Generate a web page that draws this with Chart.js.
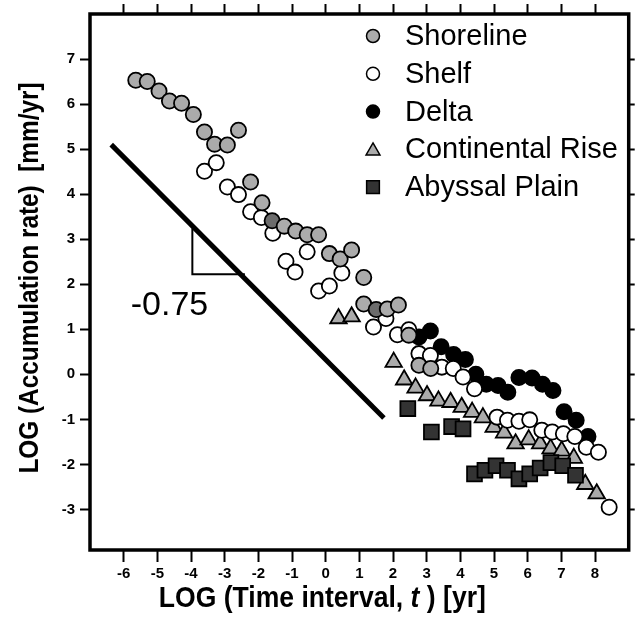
<!DOCTYPE html>
<html>
<head>
<meta charset="utf-8">
<script src="https://cdn.jsdelivr.net/npm/chart.js@4.4.1/dist/chart.umd.min.js"></script>
<style>
  html, body { margin: 0; padding: 0; background: #fff; }
  #wrap { width: 641px; height: 618px; }
</style>
</head>
<body>
<div id="wrap"><canvas id="chart" width="641" height="618"></canvas></div>
<script>
// ── Data (log10 time interval [yr] vs log10 accumulation rate [mm/yr]) ──
const shorelineX = [-5.64, -5.30, -4.95, -4.64, -4.28, -3.93, -3.60, -3.30, -2.92, -2.59,
                    -2.23, -1.89, -1.59, -1.23, -0.89, -0.55, -0.21, 0.11, 0.43, 0.77,
                    1.13, 1.13, 1.50, 1.83, 2.16, 2.47, 2.77, 3.12];
const shorelineY = [6.53, 6.50, 6.29, 6.07, 6.02, 5.77, 5.38, 5.11, 5.09, 5.42,
                    4.27, 3.81, 3.41, 3.29, 3.18, 3.10, 3.10, 2.68, 2.56, 2.76,
                    2.15, 1.56, 1.44, 1.45, 1.54, 0.87, 0.20, 0.13];

const shelfX = [-3.60, -3.25, -2.92, -2.59, -2.23, -1.91, -1.57, -1.18, -0.91, -0.55,
                -0.21, 0.11, 0.48, 1.42, 1.79, 2.13, 2.47, 2.77, 3.11, 3.45,
                3.79, 4.08, 4.42, 5.09, 5.40, 5.74, 6.06, 6.42, 6.73, 7.06,
                7.40, 7.74, 8.10, 8.42];
const shelfY = [4.51, 4.70, 4.16, 3.99, 3.61, 3.48, 3.13, 2.51, 2.27, 2.72,
                1.85, 1.96, 2.25, 1.05, 1.24, 0.88, 0.99, 0.46, 0.42, 0.16,
                0.13, -0.06, -0.32, -0.95, -1.02, -1.04, -1.01, -1.24, -1.28, -1.32,
                -1.38, -1.62, -1.73, -2.95];

const deltaX = [2.77, 3.11, 3.43, 3.80, 4.15, 4.46, 4.77, 5.12, 5.41, 5.74,
                6.13, 6.44, 6.75, 7.08, 7.44, 7.79];
const deltaY = [0.83, 0.96, 0.61, 0.44, 0.33, 0.00, -0.22, -0.25, -0.40, -0.07,
                -0.08, -0.22, -0.36, -0.83, -1.02, -1.38];

const riseX = [0.38, 0.77, 2.02, 2.33, 2.67, 3.01, 3.35, 3.71, 4.04, 4.35,
               4.67, 4.99, 5.30, 5.64, 6.03, 6.37, 6.68, 7.01, 7.37, 7.71, 8.05];
const riseY = [1.24, 1.28, 0.27, -0.12, -0.30, -0.47, -0.59, -0.62, -0.73, -0.84,
               -0.96, -1.17, -1.30, -1.54, -1.45, -1.54, -1.65, -1.70, -1.86, -2.44, -2.65];

const abyssX = [2.44, 3.14, 3.74, 4.08, 4.42, 4.73, 5.06, 5.40, 5.74, 6.06,
                6.37, 6.69, 7.04, 7.42];
const abyssY = [-0.76, -1.28, -1.16, -1.21, -2.21, -2.13, -2.03, -2.13, -2.32, -2.21,
                -2.08, -1.96, -2.03, -2.24];

// reference slope line and its slope triangle
const fitX = [-6.37, 1.73];
const fitY = [5.10, -0.97];
const slopeX = [-3.96, -3.96, -2.40];
const slopeY = [3.24, 2.22, 2.22];
const slopeText = '-0.75';
const slopeTextAt = [-4.64, 1.53];

const xTicks = [-6, -5, -4, -3, -2, -1, 0, 1, 2, 3, 4, 5, 6, 7, 8];
const yTicks = [-3, -2, -1, 0, 1, 2, 3, 4, 5, 6, 7];
const seriesNames = ['Shoreline', 'Shelf', 'Delta', 'Continental Rise', 'Abyssal Plain'];

// two shoreline symbols are printed darker in the figure
const DARK_SHORE = [12, 22];

const FONT = '"Liberation Sans", Arial, Helvetica, sans-serif';
const GRAY = '#ababab';

const pts = (xs, ys) => xs.map((x, i) => ({ x, y: ys[i] }));

const markerBase = {
  borderColor: '#000',
  borderWidth: 1.8,
  showLine: false,
};

const datasets = [
  { ...markerBase, label: seriesNames[0], data: pts(shorelineX, shorelineY),
    pointStyle: 'circle', pointRadius: 7.6,
    backgroundColor: GRAY,
    pointBackgroundColor: shorelineX.map((_, i) => DARK_SHORE.includes(i) ? '#6c6c6c' : GRAY),
    legendRadius: 6.5, order: 1 },
  { ...markerBase, label: seriesNames[1], data: pts(shelfX, shelfY),
    pointStyle: 'circle', pointRadius: 7.6, backgroundColor: '#fff',
    legendRadius: 6.5, order: 2 },
  { ...markerBase, label: seriesNames[2], data: pts(deltaX, deltaY),
    pointStyle: 'circle', pointRadius: 7.6, backgroundColor: '#000',
    legendRadius: 6.5, order: 3 },
  { ...markerBase, label: seriesNames[3], data: pts(riseX, riseY),
    pointStyle: 'triangle', pointRadius: 9.5, backgroundColor: GRAY,
    legendRadius: 8, order: 5 },
  { ...markerBase, label: seriesNames[4], data: pts(abyssX, abyssY),
    pointStyle: 'rect', pointRadius: 10.5, backgroundColor: '#333',
    legendRadius: 9, order: 4 },
  { label: 'fit', data: pts(fitX, fitY), showLine: true, pointRadius: 0,
    borderColor: '#000', borderWidth: 5, order: 8, isGuide: true },
  { label: 'slope', data: pts(slopeX, slopeY), showLine: true, pointRadius: 0,
    borderColor: '#000', borderWidth: 2, order: 8, isGuide: true },
];

// ── Plugins: frame, legend, slope label, axis titles ────────────────────
const framePlugin = {
  id: 'frame',
  afterDatasetsDraw(chart) {
    const { ctx, chartArea: a } = chart;
    ctx.save();
    ctx.strokeStyle = '#000';
    ctx.lineWidth = 3.5;
    ctx.strokeRect(a.left, a.top, a.right - a.left, a.bottom - a.top);
    ctx.restore();
  },
};

function drawMarker(ctx, style, r, x, y) {
  ctx.beginPath();
  if (style === 'circle') {
    ctx.arc(x, y, r, 0, Math.PI * 2);
  } else if (style === 'triangle') {
    const w = r * Math.sqrt(3) / 2;
    ctx.moveTo(x, y - r);
    ctx.lineTo(x + w, y + r / 2);
    ctx.lineTo(x - w, y + r / 2);
    ctx.closePath();
  } else {
    const s = r * Math.SQRT1_2;
    ctx.rect(x - s, y - s, 2 * s, 2 * s);
  }
  ctx.fill();
  ctx.stroke();
}

const legendPlugin = {
  id: 'innerLegend',
  afterDraw(chart) {
    const { ctx, chartArea: a } = chart;
    ctx.save();
    chart.data.datasets.filter(d => !d.isGuide).forEach((ds, row) => {
      const y = a.top + 22 + row * 37.8;
      ctx.fillStyle = ds.backgroundColor;
      ctx.strokeStyle = '#000';
      ctx.lineWidth = 1.5;
      drawMarker(ctx, ds.pointStyle, ds.legendRadius, a.left + 283, y + (ds.pointStyle === 'triangle' ? 1.5 : 0));
      ctx.fillStyle = '#000';
      ctx.font = '29px ' + FONT;
      ctx.textAlign = 'left';
      ctx.textBaseline = 'middle';
      ctx.fillText(ds.label, a.left + 315, y + 1);
    });
    ctx.restore();
  },
};

const labelPlugin = {
  id: 'slopeLabel',
  afterDraw(chart) {
    const { ctx, scales } = chart;
    ctx.save();
    ctx.fillStyle = '#000';
    ctx.font = '34px ' + FONT;
    ctx.textAlign = 'center';
    ctx.textBaseline = 'middle';
    ctx.fillText(slopeText, scales.x.getPixelForValue(slopeTextAt[0]), scales.y.getPixelForValue(slopeTextAt[1]));
    ctx.restore();
  },
};

const titlePlugin = {
  id: 'axisTitles',
  afterDraw(chart) {
    const { ctx, scales } = chart;
    ctx.save();
    ctx.fillStyle = '#000';
    ctx.textBaseline = 'alphabetic';
    ctx.textAlign = 'left';

    // x title: "LOG (Time interval, t ) [yr]" with italic t
    const bold = 'bold 30px ' + FONT;
    const boldIt = 'italic bold 30px ' + FONT;
    const parts = [['LOG (Time interval, ', bold], ['t', boldIt], [' ) [yr]', bold]];
    let total = 0;
    parts.forEach(p => { ctx.font = p[1]; total += ctx.measureText(p[0]).width; });
    const sx = 0.885;
    ctx.translate(scales.x.getPixelForValue(-0.1) - total * sx / 2, 607);
    ctx.scale(sx, 1);
    let cx = 0;
    parts.forEach(p => { ctx.font = p[1]; ctx.fillText(p[0], cx, 0); cx += ctx.measureText(p[0]).width; });
    ctx.setTransform(1, 0, 0, 1, 0, 0);

    // y title, rotated
    ctx.translate(38, (chart.chartArea.top + chart.chartArea.bottom) / 2 - 4);
    ctx.rotate(-Math.PI / 2);
    ctx.scale(0.87, 1);
    ctx.font = 'bold 28px ' + FONT;
    ctx.textAlign = 'center';
    ctx.fillText('LOG (Accumulation rate)  [mm/yr]', 0, 0);
    ctx.restore();
  },
};

// ── Axes ────────────────────────────────────────────────────────────────
const tickFont = { family: FONT, size: 15, weight: 'bold' };
const markOnly = (len) => ({
  drawOnChartArea: false, drawTicks: true, tickLength: len, tickWidth: 2, tickColor: '#000',
});

new Chart(document.getElementById('chart'), {
  type: 'scatter',
  data: { datasets },
  options: {
    responsive: false,
    animation: false,
    events: [],
    layout: { padding: 0 },
    plugins: { legend: { display: false }, tooltip: { enabled: false } },
    scales: {
      x: {
        type: 'linear', position: 'bottom', min: -7, max: 9,
        afterBuildTicks: s => { s.ticks = xTicks.map(v => ({ value: v })); },
        afterFit: s => { s.height = 68; },
        ticks: { font: tickFont, color: '#000', padding: 3, maxRotation: 0, autoSkip: false },
        grid: markOnly(12),
        border: { display: false },
      },
      x2: {
        type: 'linear', position: 'top', min: -7, max: 9,
        afterBuildTicks: s => { s.ticks = xTicks.map(v => ({ value: v })); },
        afterFit: s => { s.height = 14; },
        ticks: { display: false },
        grid: markOnly(10),
        border: { display: false },
      },
      y: {
        type: 'linear', position: 'left', min: -3.9, max: 8,
        afterBuildTicks: s => { s.ticks = yTicks.map(v => ({ value: v })); },
        afterFit: s => { s.width = 90; },
        ticks: { font: tickFont, color: '#000', padding: 5, autoSkip: false },
        grid: markOnly(10),
        border: { display: false },
      },
      y2: {
        type: 'linear', position: 'right', min: -3.9, max: 8,
        afterBuildTicks: s => { s.ticks = yTicks.map(v => ({ value: v })); },
        afterFit: s => { s.width = 5; },
        ticks: { display: false },
        grid: markOnly(6),
        border: { display: false },
      },
    },
  },
  plugins: [framePlugin, legendPlugin, labelPlugin, titlePlugin],
});
</script>
</body>
</html>
